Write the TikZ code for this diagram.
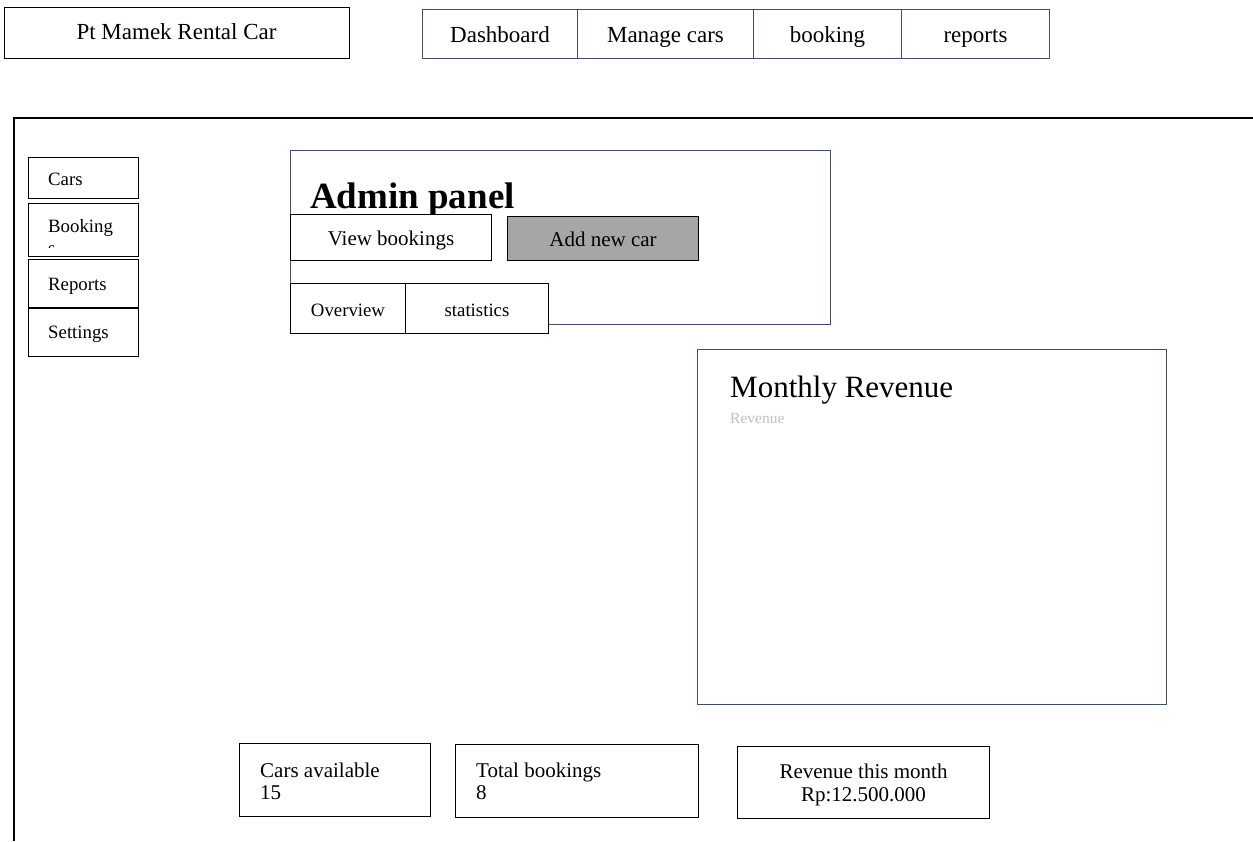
\documentclass[tikz,border=0pt]{standalone}
\usepackage{fontspec}
\setmainfont{Liberation Serif}
\definecolor{slate}{HTML}{3E4E6C}
\definecolor{btngray}{HTML}{A6A6A6}
\definecolor{lightgray}{HTML}{BFBFBF}
\begin{document}
\begin{tikzpicture}[x=1pt,y=-1pt,
  box/.style={draw=black,line width=1pt,rectangle,inner sep=0pt,anchor=north west},
  sbox/.style={box,draw=slate},
  txt/.style={inner sep=0pt,anchor=base},
  ltxt/.style={inner sep=0pt,anchor=base west},
  f24/.style={font=\fontsize{23}{27}\selectfont},
  f21/.style={font=\fontsize{21}{25}\selectfont},
  f19/.style={font=\fontsize{18.8}{22}\selectfont}]
\useasboundingbox (0,0) rectangle (1253,841);

% title
\node[box,minimum width=345,minimum height=51] (title) at (4,7) {};
\node[txt,f24] (titlet) at (176.5,39) {Pt Mamek Rental Car};

% nav
\node[sbox,minimum width=155,minimum height=49] (nav1) at (422,9) {};
\node[sbox,minimum width=176,minimum height=49] (nav2) at (577,9) {};
\node[sbox,minimum width=148,minimum height=49] (nav3) at (753,9) {};
\node[sbox,minimum width=148,minimum height=49] (nav4) at (901,9) {};
\node[txt,f24] (nav1t) at (nav1.center |- 0,42) {Dashboard};
\node[txt,f24] (nav2t) at (nav2.center |- 0,42) {Manage cars};
\node[txt,f24] (nav3t) at (nav3.center |- 0,42) {booking};
\node[txt,f24] (nav4t) at (nav4.center |- 0,42) {reports};

% outer frame
\coordinate (frTR) at (1253,118);
\coordinate (frTL) at (14,118);
\coordinate (frBL) at (14,841);
\draw[line width=2pt] (frTR) -- (frTL) -- (frBL);

% sidebar
\node[box,minimum width=110,minimum height=41] (sb1) at (28,157) {};
\node[box,minimum width=110,minimum height=53] (sb2) at (28,203) {};
\node[box,minimum width=110,minimum height=48] (sb3) at (28,259) {};
\node[box,minimum width=110,minimum height=48] (sb4) at (28,308) {};
\node[ltxt,f19] (sb1t) at (48,185) {Cars};
\node[ltxt,f19] (sb2t) at (48,232) {Booking};
\begin{scope}
\clip (28,203) rectangle (138,247.5);
\node[ltxt,f19] (sb2s) at (48,254) {s};
\end{scope}
\node[ltxt,f19] (sb3t) at (48,290) {Reports};
\node[ltxt,f19] (sb4t) at (48,338) {Settings};

% admin panel
\node[sbox,minimum width=540,minimum height=174] (admin) at (290,150) {};
\node[ltxt,font=\fontsize{37}{40}\selectfont\bfseries] (admint) at (310,208) {Admin panel};
\node[box,minimum width=201,minimum height=46,fill=white] (view) at (290,214) {};
\node[txt,f21] (viewt) at (view.center |- 0,245) {View bookings};
\node[box,minimum width=191,minimum height=44,fill=btngray] (add) at (507,216) {};
\node[txt,f21] (addt) at (add.center |- 0,246) {Add new car};
\node[box,minimum width=115,minimum height=50,fill=white] (ov) at (290,283) {};
\node[box,minimum width=143,minimum height=50,fill=white] (st) at (405,283) {};
\node[txt,f19] (ovt) at (ov.center |- 0,316) {Overview};
\node[txt,f19] (stt) at (st.center |- 0,316) {statistics};

% monthly revenue
\node[sbox,minimum width=469,minimum height=355] (rev) at (697,349) {};
\node[ltxt,font=\fontsize{31}{35}\selectfont] (revt) at (730,397) {Monthly Revenue};
\node[ltxt,font=\fontsize{15.5}{18}\selectfont,text=lightgray] (revs) at (730,423) {Revenue};

% bottom cards
\node[box,minimum width=191,minimum height=73] (c1) at (239,743) {};
\node[ltxt,f21] (c1a) at (260,777) {Cars available};
\node[ltxt,f21] (c1b) at (260,799) {15};
\node[box,minimum width=243,minimum height=73] (c2) at (455,744) {};
\node[ltxt,f21] (c2a) at (476,777) {Total bookings};
\node[ltxt,f21] (c2b) at (476,799) {8};
\node[box,minimum width=252,minimum height=72] (c3) at (737,746) {};
\node[txt,f21] (c3a) at (c3.center |- 0,778) {Revenue this month};
\node[txt,f21] (c3b) at (c3.center |- 0,801) {Rp:12.500.000};
\end{tikzpicture}
\end{document}
